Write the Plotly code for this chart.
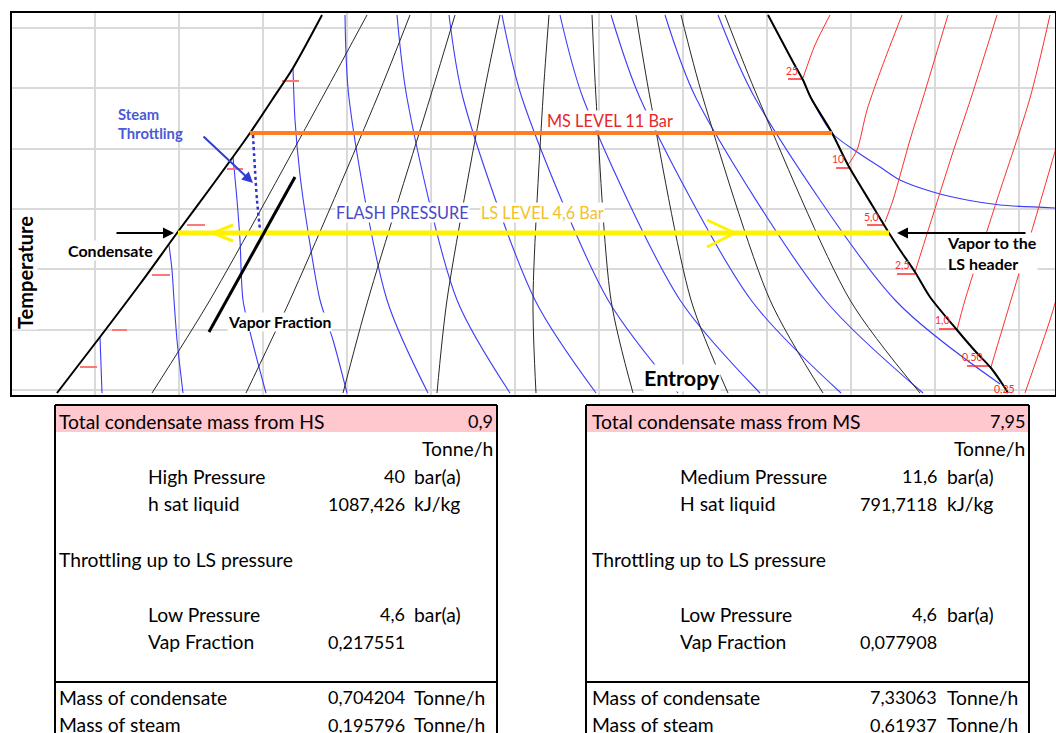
import plotly.graph_objects as go

FONT = "Lato"

# ---------------- T-s diagram, chart units: s to the right, T upward ----------------
# saturation dome
sat_liquid_s = [57, 100, 140, 177, 214, 250, 272, 293, 322]
sat_liquid_T = [7, 63, 116, 167, 217, 267, 300, 332, 385]
sat_vapour_s = [768, 793, 803, 811, 832, 848, 872, 889, 900, 915, 930, 957, 976, 991, 1005, 1008]
sat_vapour_T = [385, 338, 320, 302, 267, 235, 195, 167, 150, 128, 103, 70, 48, 32, 12, 7]

# constant vapour-fraction lines x = 0.1 ... 0.9
quality_T = [7, 100, 302, 385]
quality_s = [
    [152, 210, 322, 367],
    [246, 290, 377, 410],
    [343, 368, 430, 455],
    [437, 447, 483, 500],
    [536, 533, 543, 549],
    [633, 611, 596, 592],
    [728, 691, 650, 636],
    [823, 770, 703, 681],
    [920, 850, 758, 725],
]

# isenthalps through the wet region
isenth_T = [385, 302, 100, 7]
isenth_s = [
    [345, 349, 387, 428],
    [397, 407, 457, 510],
    [449, 463, 535, 596],
    [502, 522, 608, 678],
    [560, 583, 680, 760],
    [611, 640, 751, 841],
    [665, 696, 825, 923],
]
isenth_end_s = [718, 755, 895, 1000]
isenth_end_T = [385, 302, 100, 16]

# isenthalps starting on the saturated-liquid line
liq_isenth_1_s = [293, 295, 300, 307, 320, 333, 347]
liq_isenth_1_T = [332, 280, 225, 175, 100, 60, 7]
liq_isenth_2_s = [233, 237, 240, 243, 252, 266]
liq_isenth_2_T = [243, 200, 160, 100, 60, 7]
liq_isenth_3_s = [169, 172, 174, 177, 183]
liq_isenth_3_T = [155, 130, 100, 60, 7]
liq_isenth_4_s = [100, 101, 102]
liq_isenth_4_T = [63, 35, 7]

# isenthalp leaving the dome into the superheated region
sh_isenth_s = [803, 811, 832, 857, 880, 900, 933, 967, 1000, 1056]
sh_isenth_T = [320, 302, 267, 248, 233, 220, 208, 200, 195, 192]

# superheated isobars (bar) and their labels
isobar_labels = ["25", "10", "5,0", "2,5", "1,0", "0,50", "0,25"]
isobar_s = [
    [803, 815, 830],
    [848, 857, 867, 882, 902],
    [885, 893, 910, 923, 948],
    [915, 933, 952, 971, 997],
    [957, 965, 997, 1030, 1050],
    [991, 1011, 1035, 1056],
    [1025, 1050, 1056],
]
isobar_T = [
    [322, 355, 385],
    [235, 250, 290, 333, 385],
    [178, 200, 260, 302, 385],
    [128, 185, 245, 302, 385],
    [70, 100, 200, 302, 385],
    [33, 100, 180, 252],
    [7, 80, 100],
]
isobar_label_s = [792, 838, 871, 902, 942, 972, 1004]
isobar_label_T = [329, 241, 183, 135, 80, 43, 11]
isobar_tick_s0 = [788, 836, 867, 897, 939, 967]
isobar_tick_s1 = [803, 850, 884, 915, 957, 990]
isobar_tick_T = [321, 232, 175, 126, 71, 34]

# isobar marks on the liquid side
liq_tick_s0 = [282, 227, 187, 152, 112, 80]
liq_tick_s1 = [299, 243, 205, 170, 127, 97]
liq_tick_T = [319, 231, 175, 125, 70, 33]

# steam levels
ms_level_s = [250, 832]
ms_level_T = [267, 267]
ls_level_s = [178, 889]
ls_level_T = [167, 167]
throttle_s = [253, 255, 257, 260]
throttle_T = [265, 230, 200, 170]
vap_frac_marker_s = [209, 295]
vap_frac_marker_T = [68, 223]
chevron_left_s = [233, 213, 233]
chevron_left_T = [175, 167, 159]
chevron_right_s = [707, 735, 707]
chevron_right_T = [180, 167, 153]

# ---------------- flash tables ----------------
table_rows = [0, 1, 2, 3, 5, 7, 8, 10, 11]
row_indented = [False, False, True, True, False, True, True, False, False]

hs_labels = ["Total condensate mass from HS", "", "High Pressure", "h sat liquid",
             "Throttling up to LS pressure", "Low Pressure", "Vap Fraction",
             "Mass of condensate", "Mass of steam"]
hs_values = ["0,9", "", "40", "1087,426", "", "4,6", "0,217551", "0,704204", "0,195796"]
hs_units = ["", "Tonne/h", "bar(a)", "kJ/kg", "", "bar(a)", "", "Tonne/h", "Tonne/h"]

ms_labels = ["Total condensate mass from MS", "", "Medium Pressure", "H sat liquid",
             "Throttling up to LS pressure", "Low Pressure", "Vap Fraction",
             "Mass of condensate", "Mass of steam"]
ms_values = ["7,95", "", "11,6", "791,7118", "", "4,6", "0,077908", "7,33063", "0,61937"]
ms_units = ["", "Tonne/h", "bar(a)", "kJ/kg", "", "bar(a)", "", "Tonne/h", "Tonne/h"]

# column layout of each table: border left/right, label, indented label,
# value (right aligned), unit (left aligned), right edge text
hs_columns = dict(left=55, right=497, label=58, indent=147, value=406, unit=413, edge=494)
ms_columns = dict(left=586, right=1029, label=591, indent=679, value=938, unit=946, edge=1026)

TEXT_SIZE = 19.3
NUM_SIZE = 18

fig = go.Figure()


def curve(s, T, color, width=1, dash=None, shape="spline"):
    fig.add_trace(go.Scatter(
        x=s, y=T, mode="lines", hoverinfo="skip", showlegend=False,
        line=dict(color=color, width=width, dash=dash, shape=shape, smoothing=0.8),
        xaxis="x", yaxis="y"))


BLUE = "rgb(60,60,250)"
GREY = "rgb(40,40,40)"
RED = "rgb(255,45,45)"

for s in isenth_s:
    curve(s, isenth_T, BLUE, width=1.1)
curve(isenth_end_s, isenth_end_T, BLUE, width=1.1)
curve(liq_isenth_1_s, liq_isenth_1_T, BLUE, width=1.1)
curve(liq_isenth_2_s, liq_isenth_2_T, BLUE, width=1.1)
curve(liq_isenth_3_s, liq_isenth_3_T, BLUE, width=1.1)
curve(liq_isenth_4_s, liq_isenth_4_T, BLUE, width=1.1)
curve(sh_isenth_s, sh_isenth_T, BLUE, width=1.1)

for s in quality_s:
    curve(s, quality_T, GREY)

for s, T in zip(isobar_s, isobar_T):
    curve(s, T, RED)

# short isobar marks
tick_x, tick_y = [], []
for a, b, t in zip(isobar_tick_s0, isobar_tick_s1, isobar_tick_T):
    tick_x += [a, b, None]
    tick_y += [t, t, None]
curve(tick_x, tick_y, RED, width=1.5, shape="linear")
ltick_x, ltick_y = [], []
for a, b, t in zip(liq_tick_s0, liq_tick_s1, liq_tick_T):
    ltick_x += [a, b, None]
    ltick_y += [t, t, None]
curve(ltick_x, ltick_y, "rgb(255,120,120)", width=2, shape="linear")

curve(sat_liquid_s, sat_liquid_T, "black", width=2)
curve(sat_vapour_s, sat_vapour_T, "black", width=2)

curve(ms_level_s, ms_level_T, "rgb(255,125,35)", width=4, shape="linear")
curve(ls_level_s, ls_level_T, "rgb(255,242,0)", width=5, shape="linear")
curve(chevron_left_s, chevron_left_T, "rgb(255,242,0)", width=3, shape="linear")
curve(chevron_right_s, chevron_right_T, "rgb(255,242,0)", width=3, shape="linear")
curve(throttle_s, throttle_T, "rgb(50,50,210)", width=2.5, dash="dot")
curve(vap_frac_marker_s, vap_frac_marker_T, "black", width=3, shape="linear")

ann = []


def label(text, x, y, size, color="black", bold=False, xanchor="center", bg="white",
          angle=0, align="center", xref="x", yref="y", yanchor="middle"):
    ann.append(dict(
        text=f"<b>{text}</b>" if bold else text, x=x, y=y, xref=xref, yref=yref,
        showarrow=False, xanchor=xanchor, yanchor=yanchor, align=align,
        textangle=angle, bgcolor=bg, borderpad=0,
        font=dict(family=FONT, size=size, color=color)))


def arrow(x, y, ax, ay, color):
    ann.append(dict(
        x=x, y=y, ax=ax, ay=ay, xref="x", yref="y", axref="x", ayref="y",
        showarrow=True, arrowhead=2, arrowsize=1.1, arrowwidth=2,
        arrowcolor=color, standoff=0, text=""))


for txt, s, T in zip(isobar_labels, isobar_label_s, isobar_label_T):
    label(txt, s, T, 10.5, color=RED, bg=None)

label("MS LEVEL 11 Bar", 610, 280, 16.3, color="rgb(232,38,45)")
label("FLASH PRESSURE", 402, 188, 16.3, color="rgb(72,72,200)")
label("LS LEVEL 4,6 Bar", 542, 188, 16.3, color="rgb(242,193,46)")
label("Steam<br>Throttling", 117, 277, 14.8, color="rgb(74,90,216)", bold=True,
      xanchor="left", align="left", bg=None)
label("Condensate", 110, 150, 16, bold=True)
label("Vapor Fraction", 279, 78, 15.7, bold=True)
label("Vapor to the<br>LS header", 946, 147, 16, bold=True, xanchor="left", align="left")
label("Temperature", 25, 127, 20, bold=True, angle=-90)
label("Entropy", 682, 22, 21.5, bold=True)

arrow(253, 217, 202, 265, "rgb(50,60,210)")
arrow(174, 167, 115, 167, "black")
arrow(897, 167, 1027, 167, "black")

# tables: annotations in the lower panel (x2: column position, y2: row index)
shapes = []


def table(cols, labels, values, units):
    top, pink_top, pink_bottom, divider, bottom = -0.58, -0.54, 0.40, 9.46, 11.31
    shapes.append(dict(type="rect", xref="x2", yref="y2", x0=cols["left"] + 1,
                       x1=cols["right"] - 1, y0=pink_top, y1=pink_bottom,
                       fillcolor="#ffc7ce", line=dict(width=0), layer="below"))
    for x0, y0, x1, y1 in [
        (cols["left"], top, cols["right"], top),
        (cols["left"], top, cols["left"], bottom),
        (cols["right"], top, cols["right"], bottom),
        (cols["left"], divider, cols["right"], divider),
    ]:
        shapes.append(dict(type="line", xref="x2", yref="y2", x0=x0, y0=y0, x1=x1, y1=y1,
                           line=dict(color="black", width=2)))
    for i, r in enumerate(table_rows):
        if labels[i]:
            label(labels[i], cols["indent"] if row_indented[i] else cols["label"], r,
                  TEXT_SIZE, xanchor="left", xref="x2", yref="y2", bg=None)
        if values[i]:
            label(values[i], cols["edge"] if i == 0 else cols["value"], r, NUM_SIZE,
                  xanchor="right", xref="x2", yref="y2", bg=None)
        if units[i]:
            if i == 1:
                label(units[i], cols["edge"], r, TEXT_SIZE, xanchor="right",
                      xref="x2", yref="y2", bg=None)
            else:
                label(units[i], cols["unit"], r, TEXT_SIZE, xanchor="left",
                      xref="x2", yref="y2", bg=None)


table(hs_columns, hs_labels, hs_values, hs_units)
table(ms_columns, ms_labels, ms_values, ms_units)

fig.update_layout(
    width=1056, height=733, margin=dict(l=0, r=0, t=0, b=0),
    paper_bgcolor="white", plot_bgcolor="white", showlegend=False,
    annotations=ann, shapes=shapes,
    xaxis=dict(domain=[12 / 1056, 1055 / 1056], range=[12, 1055], showticklabels=False,
               ticks="", zeroline=False, showgrid=True, gridcolor="#d9d9d9", gridwidth=2,
               tick0=95, dtick=84, showline=True, mirror=True, linecolor="black",
               linewidth=2, fixedrange=True),
    yaxis=dict(domain=[338 / 733, 720 / 733], range=[5, 387], showticklabels=False,
               ticks="", zeroline=False, showgrid=True, gridcolor="#d9d9d9", gridwidth=2,
               tick0=10, dtick=60.33, showline=True, mirror=True, linecolor="black",
               linewidth=2, fixedrange=True),
    xaxis2=dict(domain=[0, 1], range=[0, 1056], visible=False, anchor="y2", fixedrange=True),
    yaxis2=dict(domain=[0, 336 / 733], range=[11.304, -0.870], visible=False, anchor="x2",
                fixedrange=True),
)

fig.write_html("out.html")
